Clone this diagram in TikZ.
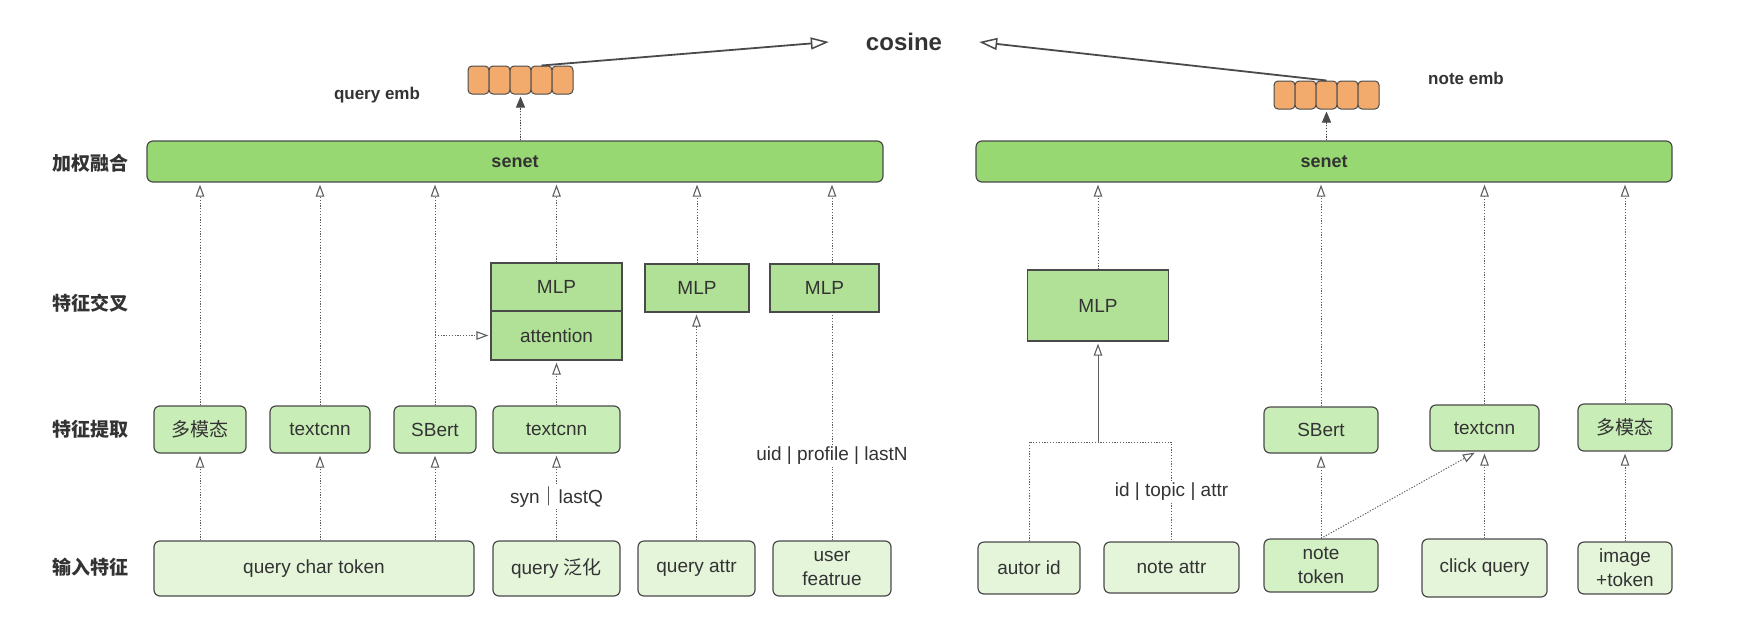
\documentclass[tikz,border=0pt]{standalone}
\usepackage{fontspec}
\setmainfont{Liberation Sans}
\newfontfamily\cjk{Noto Sans CJK SC}
\usetikzlibrary{arrows.meta}
\definecolor{txt}{HTML}{333333}
\definecolor{edge}{HTML}{4A4A4A}
\definecolor{lines}{HTML}{5E5E5E}
\definecolor{senetgreen}{HTML}{98D872}
\definecolor{mlpgreen}{HTML}{B1E197}
\definecolor{exgreen}{HTML}{C9EDB7}
\definecolor{ingreen}{HTML}{E4F5DA}
\definecolor{embfill}{HTML}{F2AB6D}

\begin{document}
\begin{tikzpicture}[x=1pt,y=-1pt,
    every node/.style={text=txt,font=\fontsize{19}{24}\selectfont,inner sep=0pt},
    box/.style={draw=edge,line width=1.2pt,rounded corners=6pt,align=center},
    senetbox/.style={box,fill=senetgreen,minimum height=41pt,font=\fontsize{18}{22}\selectfont\bfseries},
    mlpbox/.style={box,rounded corners=0pt,fill=mlpgreen},
    exbox/.style={box,fill=exgreen,minimum height=47pt},
    inbox/.style={box,fill=ingreen,minimum height=53pt},
    cell/.style={draw=edge,line width=1pt,rounded corners=4pt,fill=embfill,minimum width=21pt,minimum height=28pt},
    rowlbl/.style={anchor=west,font=\fontsize{19}{22}\selectfont\cjk\bfseries},
    emblbl/.style={font=\fontsize{17}{20}\selectfont\bfseries},
    lbl/.style={fill=white,inner sep=2pt},
    flow/.style={draw=lines,line width=1pt,dash pattern=on 1.2pt off 1.6pt,shorten >=2pt,
      -{Triangle[open,length=12pt,width=8.5pt,line width=1.1pt]}},
    embflow/.style={flow,-{Triangle[length=11pt,width=9pt]},draw=edge,fill=edge},
    cosarrow/.style={draw=edge,line width=1.8pt,-{Triangle[open,length=18pt,width=12pt,line width=1.5pt]}}]
  \useasboundingbox (0,0) rectangle (1752,624);

  \node[font=\fontsize{24}{28}\selectfont\bfseries,minimum width=150pt] (cos) at (904,42) {cosine};

  \node[rowlbl] (lFuse) at (52,163) {加权融合};
  \node[rowlbl] (lCross) at (52,303) {特征交叉};
  \node[rowlbl] (lExtract) at (52,429) {特征提取};
  \node[rowlbl] (lInput) at (52,567) {输入特征};

  \node[senetbox,minimum width=736pt] (senetQ) at (515,161.5) {senet};
  \node[senetbox,minimum width=696pt] (senetN) at (1324,161.5) {senet};

  \foreach \i in {0,...,4}
    \node[cell] (eq\i) at (478.5+21*\i,80) {};
  \foreach \i in {0,...,4}
    \node[cell] (en\i) at (1284.5+21*\i,95) {};
  \node[emblbl] (qEmb) at (377,95) {query emb};
  \node[emblbl] (nEmb) at (1466,78) {note emb};

  \node[mlpbox,minimum width=131pt,minimum height=48pt] (mlpA) at (556.5,287) {MLP};
  \node[mlpbox,minimum width=131pt,minimum height=49pt] (attn) at (556.5,335.5) {attention};
  \node[mlpbox,minimum width=104pt,minimum height=48pt] (mlpB) at (697,288) {MLP};
  \node[mlpbox,minimum width=109pt,minimum height=48pt] (mlpC) at (824.5,288) {MLP};
  \node[mlpbox,minimum width=141pt,minimum height=71pt] (mlpN) at (1098,305.5) {MLP};

  \node[exbox,minimum width=92pt] (exMulti) at (200,429.5) {\cjk 多模态};
  \node[exbox,minimum width=100pt] (exText) at (320,429.5) {textcnn};
  \node[exbox,minimum width=82pt] (exSBert) at (435,429.5) {SBert};
  \node[exbox,minimum width=127pt] (exText2) at (556.5,429.5) {textcnn};
  \node[exbox,minimum width=114pt,minimum height=46pt] (exSBertN) at (1321,430) {SBert};
  \node[exbox,minimum width=109pt,minimum height=46pt] (exTextN) at (1484.5,428) {textcnn};
  \node[exbox,minimum width=94pt] (exMultiN) at (1625,427.5) {\cjk 多模态};

  \node[inbox,minimum width=320pt,minimum height=55pt] (inChar) at (314,568.5) {query char token};
  \node[inbox,minimum width=127pt,minimum height=55pt] (inSyn) at (556.5,568.5) {query {\cjk 泛化}};
  \node[inbox,minimum width=117pt,minimum height=55pt] (inAttr) at (696.5,568.5) {query attr};
  \node[inbox,minimum width=118pt,minimum height=55pt] (inUser) at (832,568.5) {user\\featrue};
  \node[inbox,minimum width=102pt,minimum height=52pt] (inAutor) at (1029,568) {autor id};
  \node[inbox,minimum width=135pt,minimum height=51pt] (inNoteAttr) at (1171.5,567.5) {note attr};
  \node[inbox,fill=exgreen!60!ingreen,minimum width=114pt] (inNoteTok) at (1321,565.5) {note\\token};
  \node[inbox,minimum width=125pt,minimum height=58pt] (inClick) at (1484.5,568) {click query};
  \node[inbox,minimum width=94pt,minimum height=52pt] (inImage) at (1625,568) {image\\+token};

  \draw[embflow] (eq2 |- senetQ.north) -- (eq2.south);
  \draw[embflow] (en2 |- senetN.north) -- (en2.south);
  \draw[cosarrow] (eq3.north) -- (cos.west);
  \draw[cosarrow] (en2.north) -- (cos.east);

  \foreach \n in {exMulti,exText,exSBert} {
    \draw[flow] (\n |- inChar.north) -- (\n.south);
    \draw[flow] (\n.north) -- (\n |- senetQ.south);
  }
  \draw[flow] (exSBert |- attn.west) -- (attn.west);
  \draw[flow] (inSyn) -- node[lbl] {syn{\cjk ｜}lastQ} (exText2);
  \draw[flow] (exText2) -- (attn);
  \draw[flow] (mlpA.north) -- (mlpA |- senetQ.south);
  \draw[flow] (inAttr.north) -- (inAttr |- mlpB.south);
  \draw[flow] (mlpB.north) -- (mlpB |- senetQ.south);
  \draw[flow,-] (inUser.north) -- node[lbl,pos=0.37] {uid | profile | lastN} (inUser |- mlpC.south);
  \draw[flow] (inUser |- mlpC.north) -- (inUser |- senetQ.south);

  \coordinate (join) at (1098,442);
  \draw[flow,-] (inAutor.north) -- (inAutor |- join) -- (inNoteAttr |- join)
    -- node[lbl] {id | topic | attr} (inNoteAttr.north);
  \draw[draw=lines,line width=1pt,shorten >=2pt,-{Triangle[open,length=12pt,width=8.5pt,line width=1.1pt]}] (join) -- (mlpN.south);
  \draw[flow] (mlpN.north) -- (mlpN |- senetN.south);
  \draw[flow] (inNoteTok) -- (exSBertN);
  \draw[flow] (inNoteTok.north) -- ([xshift=-8pt]exTextN.south);
  \draw[flow] (inClick) -- (exTextN);
  \draw[flow] (inImage) -- (exMultiN);
  \foreach \n in {exSBertN,exTextN,exMultiN}
    \draw[flow] (\n.north) -- (\n |- senetN.south);
\end{tikzpicture}
\end{document}
